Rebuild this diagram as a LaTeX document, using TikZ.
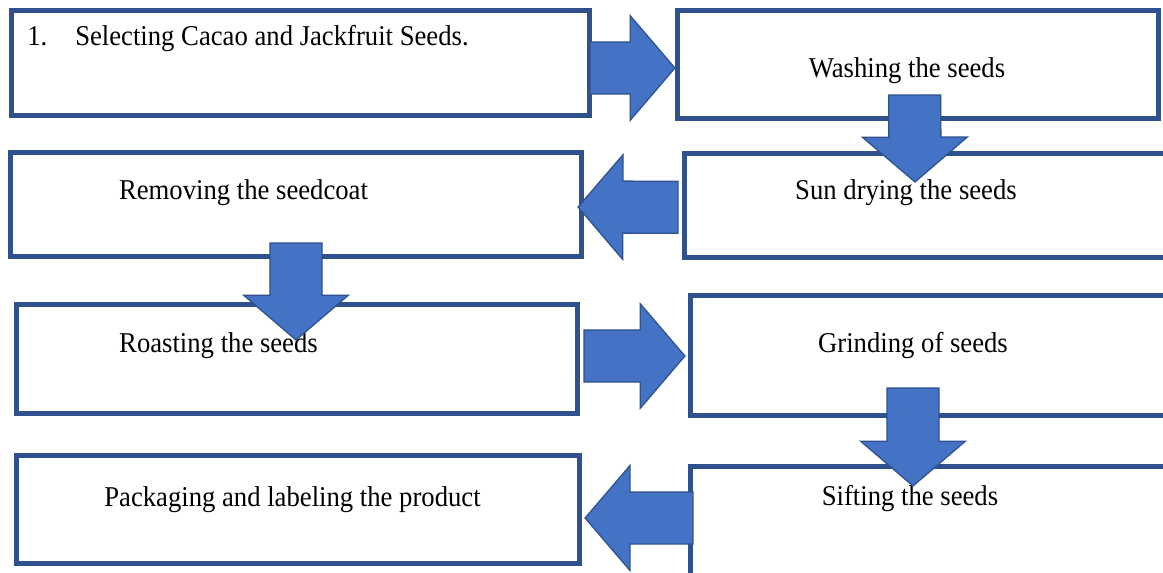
\documentclass[tikz,border=0pt]{standalone}
\usepackage{fontspec}
\usepackage{tikz}
\usetikzlibrary{calc}
\newfontfamily\stepfont[FakeStretch=0.93]{Liberation Serif}
\definecolor{boxline}{HTML}{2F528F}
\definecolor{arrfill}{HTML}{4472C4}
\newcommand\arrshaft{0.65cm}
\newcommand\arrhead{1.31cm}
\newcommand\arrtip{1.12cm}

\begin{document}
\begin{tikzpicture}[
  x=0.025cm,y=-0.025cm,
  stepbox/.style={draw=boxline, fill=white, line width=0.125cm, inner sep=0pt, outer sep=0pt},
  lab/.style={font=\stepfont\fontsize{20.4}{24}\selectfont, anchor=base, inner sep=0pt},
  barrow/.style={draw=boxline, fill=arrfill, line width=0.9pt, line join=miter,
    to path={
      ($(\tikztostart)!\arrshaft!90:(\tikztotarget)$)
      -- ($(\tikztotarget)!\arrtip!(\tikztostart)!\arrshaft!-90:(\tikztostart)$)
      -- ($(\tikztotarget)!\arrtip!(\tikztostart)!\arrhead!-90:(\tikztostart)$)
      -- (\tikztotarget)
      -- ($(\tikztotarget)!\arrtip!(\tikztostart)!\arrhead!90:(\tikztostart)$)
      -- ($(\tikztotarget)!\arrtip!(\tikztostart)!\arrshaft!90:(\tikztostart)$)
      -- ($(\tikztostart)!\arrshaft!-90:(\tikztotarget)$)
      -- cycle}}
]
\clip (0,0) rectangle (1163,572);

% boxes
\node[stepbox, minimum width=14.425cm, minimum height=2.6cm] (sel) at (300.5,63) {};
\node[stepbox, minimum width=12.0125cm, minimum height=2.675cm] (wash) at (917.75,64.5) {};
\node[stepbox, minimum width=12.125cm, minimum height=2.5875cm] (sun) at (927.5,205.25) {};
\node[stepbox, minimum width=14.25cm, minimum height=2.575cm] (peel) at (296,204.5) {};
\node[stepbox, minimum width=14cm, minimum height=2.7cm] (roast) at (297,359) {};
\node[stepbox, minimum width=11.975cm, minimum height=2.975cm] (grind) at (930.5,355.5) {};
\node[stepbox, minimum width=11.975cm, minimum height=3.075cm] (sift) at (930.5,528.5) {};
\node[stepbox, minimum width=14.05cm, minimum height=2.675cm] (pack) at (298,509.5) {};

% texts
\node[lab, anchor=base west] (selt) at (27,45) {\makebox[1.2cm][l]{1.}Selecting Cacao and Jackfruit Seeds.};
\node[lab] (washt) at (907,77) {Washing the seeds};
\node[lab] (sunt) at (906,199) {Sun drying the seeds};
\node[lab] (peelt) at (243.5,199) {Removing the seedcoat};
\node[lab] (roastt) at (218.5,352) {Roasting the seeds};
\node[lab] (grindt) at (913,352) {Grinding of seeds};
\node[lab] (siftt) at (910,505) {Sifting the seeds};
\node[lab] (packt) at (292.5,506) {Packaging and labeling the product};

% arrow ends
\coordinate (a1s) at ($(sel.east)+(1,5)$);
\coordinate (a1e) at ($(wash.west)+(-2.5,3.5)$);
\coordinate (a2s) at ($(wash.south)+(-3,-23)$);
\coordinate (a2e) at ($(sun.north)+(-12.5,28.5)$);
\coordinate (a3s) at ($(sun.west)+(-7,2)$);
\coordinate (a3e) at ($(peel.east)+(-3,2.5)$);
\coordinate (a4s) at ($(peel.south)+(0,-13)$);
\coordinate (a4e) at ($(roast.north)+(-1,35)$);
\coordinate (a5s) at ($(roast.east)+(7,-3)$);
\coordinate (a5e) at ($(grind.west)+(-6,0.5)$);
\coordinate (a6s) at ($(grind.south)+(-17.5,-27)$);
\coordinate (a6e) at ($(sift.north)+(-17.5,19)$);
\coordinate (a7s) at ($(sift.west)+(2,-10.5)$);
\coordinate (a7e) at ($(pack.east)+(6,8.5)$);

\draw[barrow] (a1s) to (a1e);
\draw[barrow] (a2s) to (a2e);
\draw[barrow] (a3s) to (a3e);
\draw[barrow] (a4s) to (a4e);
\draw[barrow] (a5s) to (a5e);
\draw[barrow] (a6s) to (a6e);
\draw[barrow] (a7s) to (a7e);
\end{tikzpicture}
\end{document}
